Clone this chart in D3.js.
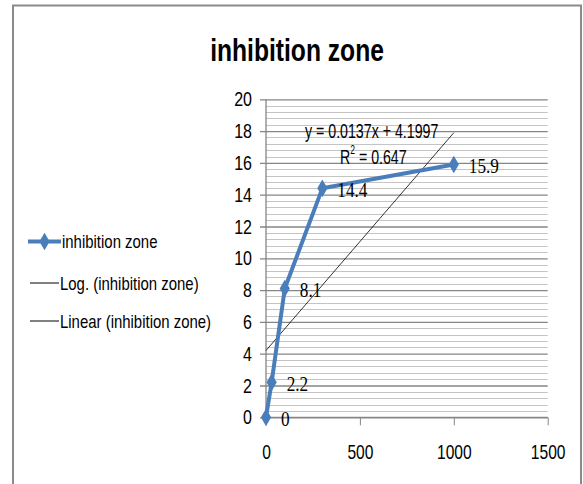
<!DOCTYPE html>
<html><head><meta charset="utf-8">
<script src="https://cdn.jsdelivr.net/npm/d3@7"></script>
<style>
body{margin:0;background:#fff;}
svg{display:block;}
.cond{font-family:"Liberation Sans","Arial",sans-serif;}
.ser{font-family:"Liberation Serif","Times New Roman",serif;}
</style>
</head><body>
<svg id="c" width="583" height="484"></svg>
<script>
const seriesName = "inhibition zone";
const xValues = [0, 30, 100, 300, 1000];
const yValues = [0, 2.2, 8.1, 14.4, 15.9];
const dataLabels = ["0", "2.2", "8.1", "14.4", "15.9"];
const xTicks = [0, 500, 1000, 1500];
const yTicks = [0, 2, 4, 6, 8, 10, 12, 14, 16, 18, 20];
const trendSlope = 0.0137, trendIntercept = 4.1997, trendR2 = "0.647";
const trendDomain = [0, 1000];
const legendItems = ["inhibition zone", "Log. (inhibition zone)", "Linear (inhibition zone)"];

const svg = d3.select("#c");
const blue = "#4a7ebb";

// condensed text helper
function ctext(parent, px, py, sx, size, str, anchor) {
  return parent.append("text").attr("class", "cond").attr("font-size", size)
    .attr("transform", `translate(${px},${py}) scale(${sx},1)`)
    .attr("text-anchor", anchor || "start").attr("dominant-baseline", "central").text(str);
}

// outer chart border
svg.append("path").attr("d", "M13,484V5.5H581V484").attr("fill", "none")
  .attr("stroke", "#8a8a8a").attr("stroke-width", 2);

const x = d3.scaleLinear().domain([0, 1500]).range([266, 547.7]);
const y = d3.scaleLinear().domain([0, 20]).range([417.3, 99.3]);

// minor gridlines
const minor = d3.range(0, 20.001, 0.4).filter(v => Math.abs(v / 2 - Math.round(v / 2)) > 1e-6);
svg.append("g").selectAll("line").data(minor).join("line")
  .attr("x1", x(0)).attr("x2", x(1500))
  .attr("y1", d => Math.round(y(d)) + 0.5).attr("y2", d => Math.round(y(d)) + 0.5)
  .attr("stroke", "#c4c4c4").attr("stroke-width", 1);

// y axis with major gridlines
const ysx = 0.8;
const yAxis = d3.axisLeft(y).tickValues(yTicks).tickSize(-(x(1500) - x(0))).tickFormat(d3.format("d"));
const gy = svg.append("g").attr("transform", `translate(${x(0)},0)`).call(yAxis);
gy.select(".domain").remove();
gy.selectAll(".tick line").attr("stroke", "#868686").attr("stroke-width", 1.3).attr("x1", -6);
gy.selectAll(".tick text").attr("class", "cond").attr("font-size", 20).attr("fill", "#000")
  .attr("x", -14 / ysx).attr("dy", null).attr("dominant-baseline", "central")
  .attr("transform", `scale(${ysx},1)`);
svg.append("line").attr("x1", x(0)).attr("x2", x(0)).attr("y1", y(20)).attr("y2", y(0))
  .attr("stroke", "#868686").attr("stroke-width", 1.3);

// x axis
const xAxis = d3.axisBottom(x).tickValues(xTicks).tickSize(8).tickFormat(d3.format("d"));
const gx = svg.append("g").attr("transform", `translate(0,${y(0)})`).call(xAxis);
gx.select(".domain").attr("stroke", "#868686").attr("stroke-width", 1.3).attr("d", `M${x(0)},0H${x(1500)}`);
gx.selectAll(".tick line").attr("stroke", "#868686");
gx.selectAll(".tick text").attr("class", "cond").attr("font-size", 20).attr("fill", "#000")
  .attr("y", 35).attr("dy", null).attr("dominant-baseline", "central")
  .attr("transform", "scale(0.78,1)");

// linear trendline
svg.append("line")
  .attr("x1", x(trendDomain[0])).attr("y1", y(trendSlope * trendDomain[0] + trendIntercept))
  .attr("x2", x(trendDomain[1])).attr("y2", y(trendSlope * trendDomain[1] + trendIntercept))
  .attr("stroke", "#000").attr("stroke-width", 0.8);

// series line
const pts = xValues.map((v, i) => [v, yValues[i]]);
svg.append("path").datum(pts)
  .attr("d", d3.line().x(d => x(d[0])).y(d => y(d[1])))
  .attr("fill", "none").attr("stroke", blue).attr("stroke-width", 4).attr("stroke-linejoin", "round");
svg.append("g").selectAll("path").data(pts).join("path")
  .attr("d", d3.symbol(d3.symbolDiamond, 90))
  .attr("transform", d => `translate(${x(d[0])},${y(d[1])})`)
  .attr("fill", blue);

// data labels
svg.append("g").selectAll("text").data(pts).join("text")
  .attr("class", "ser").attr("font-size", 21)
  .attr("transform", d => `translate(${x(d[0]) + 15},${y(d[1]) + 1.5}) scale(0.82,1)`)
  .attr("dominant-baseline", "central")
  .text((d, i) => dataLabels[i]);

// trendline equation
ctext(svg, 305, 131, 0.71, 20, `y = ${trendSlope}x + ${trendIntercept}`);
const r2 = ctext(svg, 340, 157, 0.71, 20, "");
r2.append("tspan").text("R");
r2.append("tspan").attr("font-size", 12).attr("dy", -8).text("2");
r2.append("tspan").attr("dy", 8).text(" = " + trendR2);

// title
ctext(svg, 297, 50, 0.77, 32, seriesName, "middle").attr("font-weight", "bold");

// legend
const ly = [241.5, 283, 321];
const lg = svg.append("g");
lg.append("line").attr("x1", 28).attr("x2", 61).attr("y1", ly[0]).attr("y2", ly[0])
  .attr("stroke", blue).attr("stroke-width", 4);
lg.append("path").attr("d", d3.symbol(d3.symbolDiamond, 90))
  .attr("transform", `translate(44.5,${ly[0]})`).attr("fill", blue);
[1, 2].forEach(i => {
  lg.append("line").attr("x1", 30).attr("x2", 59).attr("y1", ly[i]).attr("y2", ly[i])
    .attr("stroke", "#000").attr("stroke-width", 1);
});
legendItems.forEach((t, i) => ctext(lg, i === 0 ? 62 : 60, ly[i] + 1, 0.83, 18, t));
</script>
</body></html>
